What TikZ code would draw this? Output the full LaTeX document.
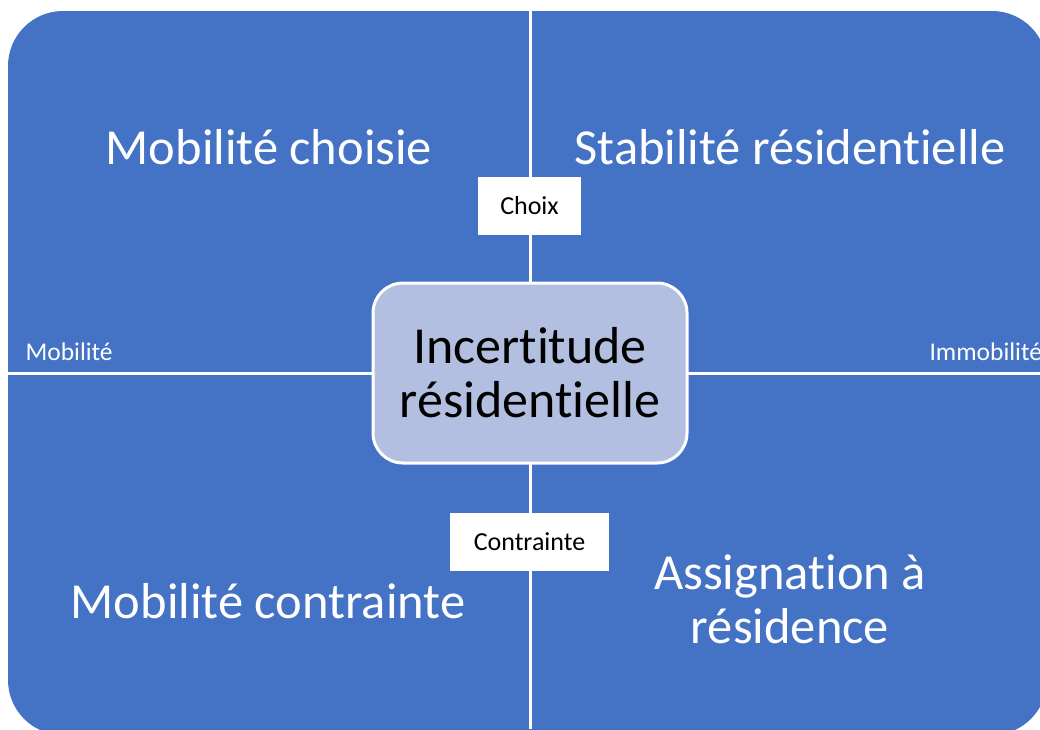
\documentclass[tikz,border=0pt]{standalone}
\usepackage{fontspec}
\setmainfont{Carlito}[Ligatures=NoCommon]
\usetikzlibrary{positioning}
\definecolor{qblue}{RGB}{68,114,196}
\definecolor{qlight}{RGB}{178,191,225}

\begin{document}
\begin{tikzpicture}[x=1pt, y=-1pt,
    quadtext/.style={text=white, font=\fontsize{50.5}{54}\selectfont, align=center},
    sidetext/.style={text=white, font=\fontsize{25.5}{30}\selectfont},
    axislabel/.style={fill=white, text=black, font=\fontsize{26}{30}\selectfont,
      minimum height=58pt, inner sep=0pt},
    centre/.style={draw=white, line width=3pt, fill=qlight, rounded corners=30pt,
      minimum width=314pt, minimum height=180pt, align=center,
      font=\fontsize{52}{54}\selectfont}]
  \useasboundingbox (0,0) rectangle (1040,729);
  % --- background ---
  \begin{scope}
    \clip (0,0) rectangle (1040,729);
    \fill[qblue, rounded corners=55pt] (8,11) rectangle (1047,735);
  \end{scope}
  % --- dividing lines ---
  \coordinate (top) at (530,11);
  \coordinate (bottom) at (530,729);
  \coordinate (left) at (8,373.5);
  \coordinate (right) at (1040,373.5);
  \draw[white, line width=3pt] (top) -- (bottom);
  \draw[white, line width=3pt] (left) -- (right);
  % --- centre ---
  \node[centre] (incert) at (530,373) {Incertitude\\résidentielle};
  % --- axis labels ---
  \node[axislabel, minimum width=103pt] (choix) at (529.5,205.5) {Choix};
  \node[axislabel, minimum width=159pt] (contr) at (529.5,541.5) {Contrainte};
  \node[sidetext, anchor=west] (mob) at (22,352) {Mobilité};
  \node[sidetext, anchor=west] (immob) at (926,352) {Immobilité};
  % --- quadrants ---
  \node[quadtext] (choisie) at (269,147) {Mobilité choisie};
  \node[quadtext] (stable) at (790,147) {Stabilité résidentielle};
  \node[quadtext] (contrainte) at (268,601) {Mobilité contrainte};
  \node[quadtext] (assign) at (790,599) {Assignation à\\résidence};
\end{tikzpicture}
\end{document}
